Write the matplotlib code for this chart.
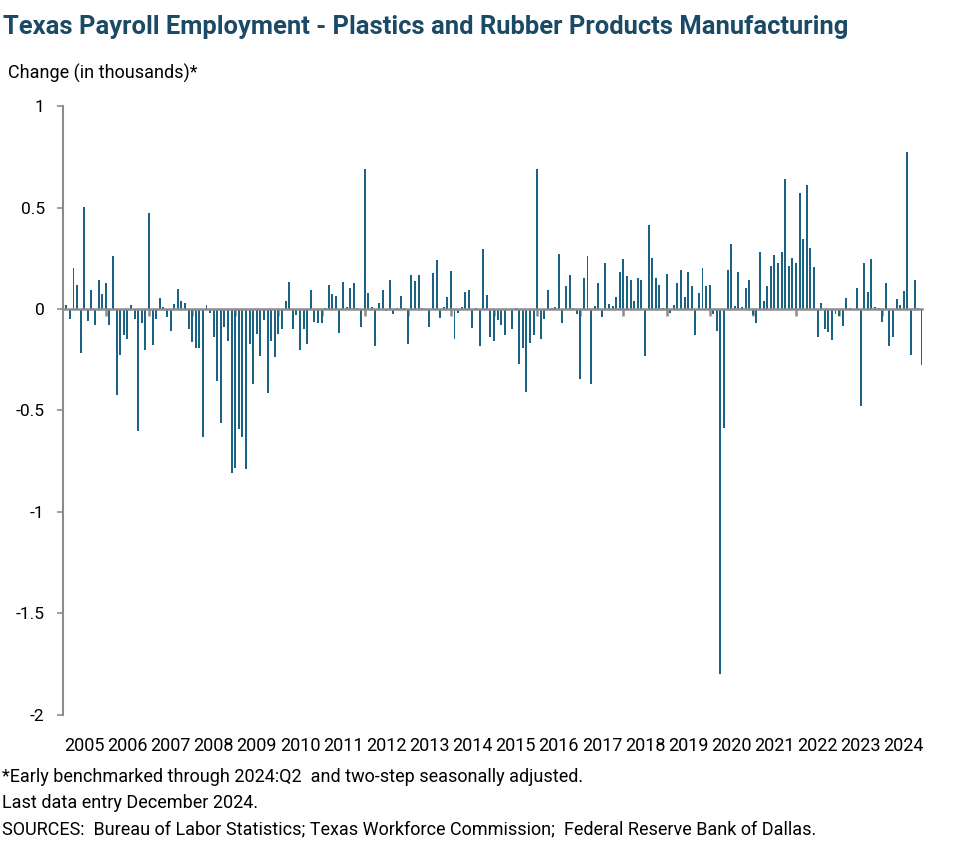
import matplotlib.pyplot as plt
import numpy as np

plt.rcParams['font.family'] = ['Roboto', 'DejaVu Sans']

# monthly change in thousands, Feb 2005 .. Dec 2024
change = [
    0.02, -0.05, 0.20, 0.117, -0.215, 0.504, -0.06, 0.095, -0.077, 0.141, 0.075,
    0.13, -0.077, 0.26, -0.425, -0.228, -0.13, -0.15, 0.02, -0.05, -0.60, -0.067, -0.20,
    0.475, -0.175, -0.05, 0.056, 0.01, -0.04, -0.11, 0.023, 0.097, 0.04, 0.028, -0.097,
    -0.164, -0.19, -0.19, -0.632, 0.02, -0.02, -0.14, -0.353, -0.563, -0.087, -0.156, -0.81,
    -0.785, -0.593, -0.632, -0.79, -0.174, -0.371, -0.125, -0.23, -0.056, -0.415, -0.156, -0.238,
    -0.125, -0.097, 0.038, 0.135, -0.10, -0.03, -0.20, -0.097, -0.17, 0.092, -0.062, -0.067,
    -0.067, 0.005, 0.117, 0.072, 0.062, -0.117, 0.135, 0.01, 0.105, 0.13, 0.003, -0.087,
    0.688, 0.08, 0.01, -0.18, 0.028, 0.092, -0.01, 0.141, -0.023, 0.004, 0.062, 0.003,
    -0.17, 0.166, 0.136, 0.166, 0.004, -0.003, -0.087, 0.176, 0.24, -0.043, 0.012, 0.06,
    0.186, -0.15, -0.018, 0.012, 0.082, 0.092, -0.092, 0.003, -0.18, 0.294, 0.067, -0.14,
    -0.16, -0.052, -0.077, -0.13, -0.003, -0.10, 0.003, -0.27, -0.19, -0.41, -0.166, -0.126,
    0.688, -0.146, -0.048, 0.095, 0.003, 0.01, 0.273, -0.067, 0.115, 0.166, 0.003, -0.023,
    -0.343, 0.154, 0.26, -0.368, 0.016, 0.126, -0.038, 0.225, 0.026, 0.013, 0.057, 0.18,
    0.245, 0.164, 0.145, 0.04, 0.154, 0.145, -0.233, 0.415, 0.253, 0.154, 0.12, 0.003,
    0.17, -0.02, 0.02, 0.126, 0.19, 0.06, 0.184, 0.115, -0.13, 0.08, 0.20, 0.115,
    0.12, -0.026, -0.107, -1.80, -0.585, 0.19, 0.318, 0.013, 0.18, 0.008, 0.105, 0.141,
    -0.03, -0.067, 0.28, 0.04, 0.115, 0.21, 0.268, 0.225, 0.282, 0.642, 0.213, 0.253,
    0.228, 0.573, 0.346, 0.612, 0.302, 0.208, -0.14, 0.031, -0.097, -0.115, -0.154, -0.023,
    -0.033, -0.082, 0.056, 0.003, -0.003, 0.105, -0.48, 0.225, 0.085, 0.248, 0.012, 0.003,
    -0.062, 0.126, -0.18, -0.136, 0.051, 0.021, 0.09, 0.775, -0.225, 0.145, 0.004, -0.276,
]
years = [str(y) for y in range(2005, 2025)]
yticks = [1, 0.5, 0, -0.5, -1, -1.5, -2]
ylabels = ["1", "0.5", "0", "-0.5", "-1", "-1.5", "-2"]

bar_color = "#1b6385"
axis_grey = "#8c8c8c"

fig = plt.figure(figsize=(9.77, 8.64), dpi=100)
ax = fig.add_axes([0.0642, 0.1725, 0.880, 0.7048])

x = np.arange(len(change))
ax.bar(x, change, width=0.55, color=bar_color, zorder=2)
ax.set_xlim(-1, len(change) - 0.8)
ax.set_ylim(-2, 1)

ax.set_yticks(yticks, ylabels)
ax.tick_params(axis="y", direction="out", length=4, width=1.2, color=axis_grey,
               labelsize=12.5, pad=9)

for s in ["top", "right"]:
    ax.spines[s].set_visible(False)
ax.spines["left"].set_color(axis_grey)
ax.spines["left"].set_linewidth(1.5)
ax.spines["bottom"].set_position(("data", 0))
ax.spines["bottom"].set_color(axis_grey)
ax.spines["bottom"].set_linewidth(1.8)
ax.spines["bottom"].set_zorder(3)

# year boundary ticks on the zero line (January of each year)
ax.set_xticks(x[11::12])
ax.tick_params(axis="x", direction="out", length=5, width=1.8, color=axis_grey,
               labelbottom=False)

# year labels at the bottom
sec = ax.secondary_xaxis("bottom")
sec.set_xticks([5 + 12 * k for k in range(len(years))], years)
sec.tick_params(length=0, pad=16, labelsize=13)
sec.spines["bottom"].set_visible(False)

fig.text(3 / 977, 1 - 27 / 864,
         "Texas Payroll Employment - Plastics and Rubber Products Manufacturing",
         fontsize=18.4, fontweight="bold", color="#1b4a66", va="center")
fig.text(8 / 977, 1 - 73 / 864, "Change (in thousands)*", fontsize=13, va="center")

fig.text(2 / 977, 1 - 777 / 864,
         "*Early benchmarked through 2024:Q2  and two-step seasonally adjusted.",
         fontsize=13, va="center")
fig.text(2 / 977, 1 - 803 / 864, "Last data entry December 2024.", fontsize=13, va="center")
fig.text(2 / 977, 1 - 829 / 864,
         "SOURCES:  Bureau of Labor Statistics; Texas Workforce Commission;  Federal Reserve Bank of Dallas.",
         fontsize=13, va="center")

fig.savefig("out.png", dpi=100)
